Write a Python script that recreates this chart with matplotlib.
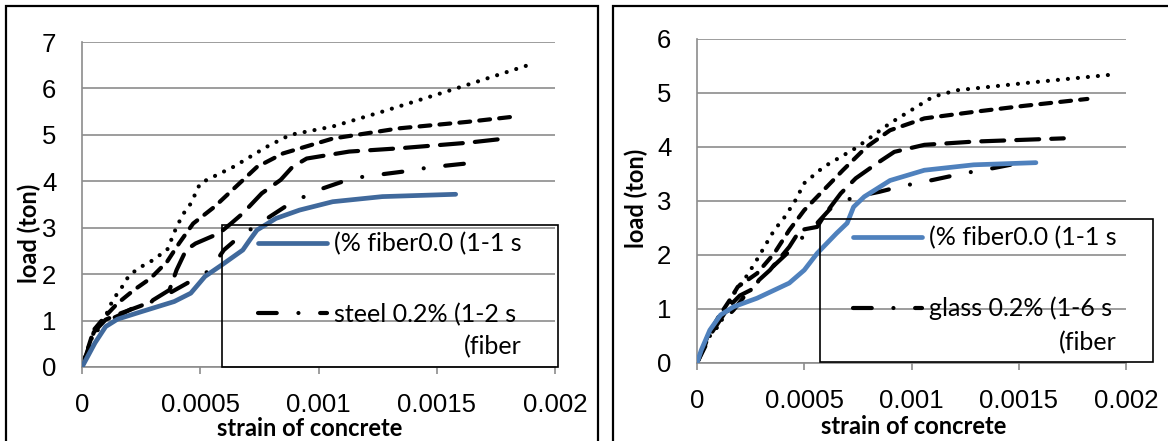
import matplotlib
matplotlib.use('Agg')
import matplotlib.pyplot as plt
from matplotlib.patches import Rectangle

# ---- data (strain vs load in ton) ----
x_ticks = [0, 0.0005, 0.001, 0.0015, 0.002]
x_tick_labels = ['0', '0.0005', '0.001', '0.0015', '0.002']

# left panel: steel fibers
steel_ctrl_x = [0, 0.000055, 0.0001, 0.00015, 0.00025, 0.00039, 0.00046, 0.00052, 0.0006,
                0.00068, 0.00071, 0.00074, 0.00082, 0.00092, 0.00106, 0.00127, 0.00158]
steel_ctrl_y = [0, 0.52, 0.87, 1.03, 1.19, 1.41, 1.59, 1.95, 2.23,
                2.52, 2.74, 2.95, 3.2, 3.38, 3.56, 3.67, 3.72]
steel_dot_x = [0, 0.00005, 0.0001, 0.00013, 0.00017, 0.0002, 0.00025, 0.00029, 0.00032, 0.00036, 0.00038,
               0.0004, 0.00043, 0.00046, 0.0005, 0.00064, 0.00078, 0.00088, 0.00106, 0.00127, 0.00157, 0.00191]
steel_dot_y = [0, 0.75, 1.1, 1.44, 1.73, 1.98, 2.16, 2.27, 2.38, 2.52, 2.77,
               3.02, 3.31, 3.52, 3.96, 4.31, 4.74, 5.0, 5.18, 5.5, 5.98, 6.54]
steel_dash_x = [0, 0.00005, 0.0001, 0.00015, 0.00022, 0.00029, 0.00036, 0.00041, 0.00047, 0.00056,
                0.00065, 0.00074, 0.00085, 0.00106, 0.00134, 0.00163, 0.00184]
steel_dash_y = [0, 0.8, 1.1, 1.37, 1.66, 1.91, 2.27, 2.66, 3.09, 3.45,
                3.88, 4.31, 4.6, 4.92, 5.14, 5.28, 5.4]
steel_long_x = [0, 0.00005, 0.0001, 0.00016, 0.00025, 0.0003, 0.00037, 0.0004, 0.00044, 0.00048, 0.00053,
                0.00058, 0.00063, 0.00068, 0.00076, 0.00084, 0.00089, 0.00095, 0.00113, 0.00134, 0.00163, 0.00179]
steel_long_y = [0, 0.75, 1.02, 1.15, 1.32, 1.44, 1.66, 2.09, 2.52, 2.66, 2.77,
                2.88, 3.09, 3.31, 3.74, 4.03, 4.31, 4.49, 4.64, 4.71, 4.83, 4.92]
steel_dd_x = [0, 0.00005, 0.0001, 0.00016, 0.00022, 0.0003, 0.00038, 0.00046, 0.00053, 0.00057, 0.0006,
              0.00065, 0.00072, 0.00087, 0.00094, 0.00102, 0.0011, 0.00119, 0.00136, 0.00147, 0.0016, 0.00166]
steel_dd_y = [0, 0.7, 0.98, 1.12, 1.28, 1.42, 1.62, 1.85, 2.05, 2.3, 2.52,
              2.74, 2.99, 3.49, 3.67, 3.85, 3.99, 4.1, 4.21, 4.3, 4.37, 4.4]

# right panel: glass fibers
glass_ctrl_x = [0, 0.00002, 0.00006, 0.00011, 0.00017, 0.00028, 0.00043, 0.0005, 0.00056,
                0.00065, 0.0007, 0.00073, 0.00078, 0.0009, 0.00106, 0.00129, 0.00158]
glass_ctrl_y = [0, 0.24, 0.61, 0.89, 1.04, 1.2, 1.48, 1.72, 2.03,
                2.4, 2.59, 2.89, 3.08, 3.38, 3.57, 3.67, 3.71]
glass_dot_x = [0, 0.00005, 0.0001, 0.00014, 0.00018, 0.00022, 0.00027, 0.00032, 0.00036, 0.00041,
               0.00046, 0.0005, 0.00059, 0.00074, 0.0009, 0.0011, 0.00121, 0.00152, 0.00196]
glass_dot_y = [0, 0.45, 0.7, 0.95, 1.35, 1.54, 1.85, 2.19, 2.46, 2.71,
               3.02, 3.33, 3.63, 3.98, 4.44, 4.93, 5.05, 5.18, 5.35]
glass_dash_x = [0, 0.00005, 0.0001, 0.00015, 0.00019, 0.00028, 0.00036, 0.00043, 0.0005, 0.00059,
                0.00068, 0.00079, 0.0009, 0.00106, 0.00129, 0.00152, 0.00182]
glass_dash_y = [0, 0.5, 0.85, 1.15, 1.41, 1.66, 2.03, 2.46, 2.83, 3.2,
                3.57, 4.0, 4.31, 4.53, 4.65, 4.76, 4.89]
glass_long_x = [0, 0.00005, 0.0001, 0.00015, 0.0002, 0.00025, 0.00029, 0.00034, 0.00043, 0.00048,
                0.00056, 0.0006, 0.00067, 0.00074, 0.00084, 0.00092, 0.00106, 0.00129, 0.00171]
glass_long_y = [0, 0.45, 0.75, 1.05, 1.25, 1.35, 1.54, 1.72, 2.15, 2.46,
                2.52, 2.77, 3.14, 3.42, 3.7, 3.91, 4.04, 4.1, 4.16]
glass_dd_x = [0, 0.00005, 0.0001, 0.00017, 0.00022, 0.00032, 0.00042, 0.00048, 0.00056, 0.00062,
              0.00068, 0.00074, 0.00085, 0.00095, 0.0011, 0.00124, 0.00137, 0.00146, 0.00153]
glass_dd_y = [0, 0.4, 0.7, 0.98, 1.23, 1.66, 2.03, 2.28, 2.59, 2.85,
              2.99, 3.08, 3.17, 3.27, 3.39, 3.51, 3.6, 3.67, 3.76]

W, H = 1168, 441
LW = 3.0
styles = {
    'dot': (0, (0.01, 2.4)),
    'dash': (0, (2.6, 2.2)),
    'long': (0, (5.5, 2.9)),
    'dd': (0, (4.5, 5.2, 0.01, 5.2)),
}


def fx(px):
    return px / W


def fy(py):
    return 1 - py / H


def draw_panel(fig, rect, ymax, series, ctrl_color, labels, legend_box, handle_xy, fiber_xy):
    ax = fig.add_axes(rect)
    lines = {}
    for key, (xs, ys) in series.items():
        if key == 'ctrl':
            ln, = ax.plot(xs, ys, color=ctrl_color, lw=LW + 0.4, solid_capstyle='round', zorder=3)
        else:
            ln, = ax.plot(xs, ys, color='black', lw=LW, linestyle=styles[key],
                          dash_capstyle='round', zorder=2)
        lines[key] = ln

    ax.set_xlim(0, 0.002)
    ax.set_ylim(0, ymax)
    ax.set_xticks(x_ticks)
    ax.set_xticklabels(x_tick_labels)
    ax.set_yticks(range(ymax + 1))
    ax.grid(axis='y', color='#8c8c8c', lw=1.2, zorder=0)
    ax.set_axisbelow(True)
    for s in ['top', 'right']:
        ax.spines[s].set_visible(False)
    for s in ['left', 'bottom']:
        ax.spines[s].set_color('#8c8c8c')
        ax.spines[s].set_linewidth(1.2)
    ax.tick_params(axis='y', length=0, pad=18.5)
    ax.tick_params(axis='x', length=5, width=1.2, color='#8c8c8c', pad=14)
    for t in ax.get_xticklabels() + ax.get_yticklabels():
        t.set_fontfamily('Liberation Sans')
        t.set_fontsize(18.5)

    ax.set_xlabel('strain of concrete', fontsize=17, fontweight='bold', family='Lato')
    ax.set_ylabel('load (ton)', fontsize=17, fontweight='bold', family='Lato')

    ax.legend([lines['ctrl'], lines['dd']], labels, loc='upper left',
              bbox_to_anchor=(fx(handle_xy[0]), fy(handle_xy[1])), bbox_transform=fig.transFigure,
              frameon=False, borderpad=0, borderaxespad=0, handlelength=2.75,
              handletextpad=0.3, labelspacing=1.9, prop={'family': 'Lato', 'size': 18})
    x0, y0, x1, y1 = legend_box
    fig.patches.append(Rectangle((fx(x0), fy(y1)), fx(x1 - x0), (y1 - y0) / H, fill=False,
                                 ec='black', lw=1.2, transform=fig.transFigure))
    fig.text(fx(fiber_xy[0]), fy(fiber_xy[1]), '(fiber', ha='right', va='center',
             family='Lato', fontsize=18)
    return ax


fig = plt.figure(figsize=(W / 100, H / 100), dpi=100)

# outer frames around both charts
fig.patches.append(Rectangle((fx(6), -0.1), fx(598 - 6), fy(6) + 0.1, fill=False,
                             ec='black', lw=1.6, transform=fig.transFigure))
fig.patches.append(Rectangle((fx(613), -0.1), 1.0, fy(6) + 0.1, fill=False,
                             ec='black', lw=1.6, transform=fig.transFigure))

ax1 = draw_panel(fig, [fx(82), fy(367), fx(555 - 82), (367 - 42) / H], 7,
                 {'dot': (steel_dot_x, steel_dot_y), 'dash': (steel_dash_x, steel_dash_y),
                  'long': (steel_long_x, steel_long_y), 'dd': (steel_dd_x, steel_dd_y),
                  'ctrl': (steel_ctrl_x, steel_ctrl_y)},
                 '#40699c', ['(% fiber0.0 (1-1 s', 'steel 0.2% (1-2 s'],
                 (222, 225, 558, 367), (258, 232), (522, 347))
ax1.xaxis.set_label_coords(0.482, -0.155)
ax1.yaxis.set_label_coords(-0.087, 0.412)

ax2 = draw_panel(fig, [fx(697), fy(363), fx(1126 - 697), (363 - 39) / H], 6,
                 {'dot': (glass_dot_x, glass_dot_y), 'dash': (glass_dash_x, glass_dash_y),
                  'long': (glass_long_x, glass_long_y), 'dd': (glass_dd_x, glass_dd_y),
                  'ctrl': (glass_ctrl_x, glass_ctrl_y)},
                 '#4f81bd', ['(% fiber0.0 (1-1 s', 'glass 0.2% (1-6 s'],
                 (820, 219, 1153, 362), (853, 226), (1117, 343))
ax2.xaxis.set_label_coords(0.506, -0.16)
ax2.yaxis.set_label_coords(-0.114, 0.509)

fig.savefig('out.png', dpi=100)
